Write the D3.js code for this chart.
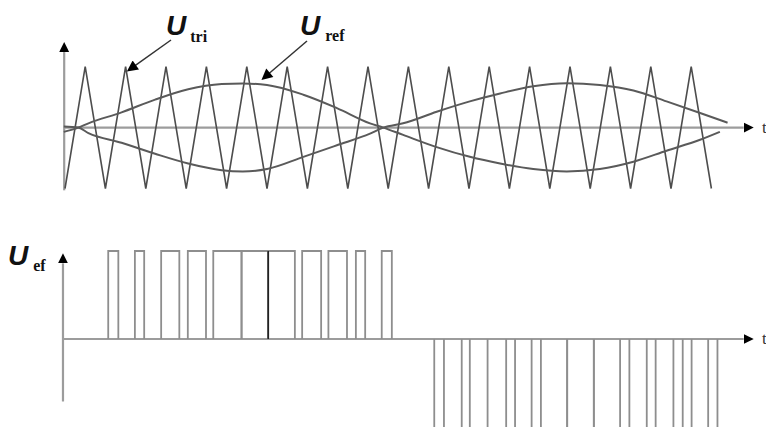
<!DOCTYPE html>
<html><head><meta charset="utf-8">
<script src="https://cdn.jsdelivr.net/npm/d3@7"></script>
<style>body{margin:0;background:#fff}svg{display:block}</style>
</head><body>
<svg id="c" width="766" height="427"></svg>
<script>
// ---- data (time in carrier periods, amplitude normalised) ----
const triTimes  = [0,0.5,1,1.5,2,2.5,3,3.5,4,4.5,5,5.5,6,6.5,7,7.5,8,8.5,9,9.5,10,10.5,11,11.5,12,12.5,13,13.5,14,14.5,15,15.5,16];
const triValues = [-1,1,-1,1,-1,1,-1,1,-1,1,-1,1,-1,1,-1,1,-1,1,-1,1,-1,1,-1,1,-1,1,-1,1,-1,1,-1,1,-1];

const refTimesA  = [-0.03,0.33,0.58,1.40,2.23,3.05,3.88,4.40,5.00,5.90,6.73,7.55,7.88,8.37,9.20,10.02,10.77,11.59,12.42,13.24,14.07,14.89,15.72,16.21];
const refValuesA = [-0.07,0.00,0.07,0.25,0.46,0.63,0.715,0.725,0.70,0.54,0.32,0.07,0.00,-0.12,-0.32,-0.48,-0.59,-0.68,-0.72,-0.68,-0.56,-0.38,-0.20,-0.07];
const refTimesB  = [-0.03,0.33,0.58,1.40,2.23,3.05,3.88,4.40,5.00,5.90,6.73,7.55,7.88,8.37,9.20,10.02,10.77,11.59,12.42,13.24,14.07,14.89,15.72,16.40];
const refValuesB = [0.02,0.00,-0.09,-0.25,-0.43,-0.59,-0.70,-0.72,-0.68,-0.48,-0.29,-0.10,0.00,0.07,0.26,0.43,0.56,0.68,0.73,0.70,0.61,0.43,0.24,0.08];

// output pulses: [start, end] in carrier periods
const posPulses = [[1.07,1.32],[1.73,1.96],[2.38,2.83],[3.04,3.49],[3.67,4.37],[4.37,5.03],[5.03,5.69],[5.87,6.34],[6.52,6.98],[7.20,7.43],[7.84,8.09]];
const negPulses = [[9.14,9.38],[9.82,10.02],[10.46,10.92],[11.14,11.55],[11.78,12.43],[12.43,13.09],[13.09,13.74],[13.97,14.40],[14.62,15.06],[15.29,15.51],[15.92,16.15]];
const darkEdges = [5.03];

const labels = [{main:"U", sub:"tri"},{main:"U", sub:"ref"},{main:"U", sub:"ef"}];
const axisLabel = "t";

// ---- scales ----
const x = d3.scaleLinear().domain([0,16]).range([65,711.4]);
const yTop = d3.scaleLinear().domain([-1,1]).range([188.5,66.7]);
const yBot = d3.scaleLinear().domain([-1,1]).range([427,251]);

const svg = d3.select("#c");
const defs = svg.append("defs");
defs.append("marker").attr("id","ah").attr("viewBox","0 0 10 10")
  .attr("refX",0).attr("refY",5).attr("markerWidth",10).attr("markerHeight",11)
  .attr("markerUnits","userSpaceOnUse").attr("orient","auto")
  .append("path").attr("d","M0,0L10,5L0,10z").attr("fill","#000");
defs.append("marker").attr("id","ah2").attr("viewBox","0 0 10 10")
  .attr("refX",2).attr("refY",5).attr("markerWidth",13).attr("markerHeight",11)
  .attr("markerUnits","userSpaceOnUse").attr("orient","auto")
  .append("path").attr("d","M0,0L10,5L0,10z").attr("fill","#000");

const axisColor = "#9c9c9c";
function axisLine(g, pts, ys){
  g.append("path").datum(pts)
   .attr("d", d3.line().x(d=>x(d[0])).y(d=>ys(d[1])))
   .attr("fill","none").attr("stroke",axisColor).attr("stroke-width",2.2)
   .attr("marker-end","url(#ah)");
}

// ---- top panel ----
const topG = svg.append("g");
axisLine(topG, [[-0.02,-1.03],[-0.02,1.24]], yTop);
axisLine(topG, [[-0.02,0],[16.8,0]], yTop);

const triData = triTimes.map((t,i)=>[t,triValues[i]]);
topG.append("path").datum(triData)
  .attr("d", d3.line().x(d=>x(d[0])).y(d=>yTop(d[1])))
  .attr("fill","none").attr("stroke","#4d4d4d").attr("stroke-width",1.6)
  .attr("stroke-linejoin","miter");

const refLine = d3.line().x(d=>x(d[0])).y(d=>yTop(d[1])).curve(d3.curveMonotoneX);
topG.append("path").datum(refTimesA.map((t,i)=>[t,refValuesA[i]]))
  .attr("d", refLine).attr("fill","none").attr("stroke","#5a5a5a").attr("stroke-width",2);
topG.append("path").datum(refTimesB.map((t,i)=>[t,refValuesB[i]]))
  .attr("d", refLine).attr("fill","none").attr("stroke","#5a5a5a").attr("stroke-width",2);

// ---- bottom panel ----
const botG = svg.append("g");
axisLine(botG, [[-0.05,-0.71],[-0.05,0.86]], yBot);
axisLine(botG, [[-0.05,0],[16.8,0]], yBot);

function pulsePath(p, level){
  return d3.line().x(d=>x(d[0])).y(d=>yBot(d[1]))([[p[0],0],[p[0],level],[p[1],level],[p[1],0]]);
}
botG.selectAll(".pp").data(posPulses).join("path").attr("class","pp")
  .attr("d", d=>pulsePath(d,1)).attr("fill","none").attr("stroke","#8e8e8e").attr("stroke-width",1.8);
botG.selectAll(".np").data(negPulses).join("path").attr("class","np")
  .attr("d", d=>pulsePath(d,-1.03)).attr("fill","none").attr("stroke","#8e8e8e").attr("stroke-width",1.8);
botG.selectAll(".de").data(darkEdges).join("line").attr("class","de")
  .attr("x1",d=>x(d)).attr("x2",d=>x(d)).attr("y1",yBot(0)).attr("y2",yBot(1))
  .attr("stroke","#222").attr("stroke-width",1.6);

// ---- labels ----
function uLabel(l, px, py, subDx, subDy){
  const t = svg.append("text").attr("x",px).attr("y",py).attr("fill","#111");
  t.append("tspan").text(l.main)
    .attr("font-family","Liberation Sans, Arial, sans-serif").attr("font-weight","bold")
    .attr("font-style","italic").attr("font-size",28);
  t.append("tspan").text(l.sub).attr("dx",subDx).attr("dy",subDy)
    .attr("font-family","Liberation Serif, Times New Roman, serif").attr("font-weight","bold")
    .attr("font-size",16);
}
uLabel(labels[0], 166, 35, 4, 7);
uLabel(labels[1], 300, 35, 5, 6);
uLabel(labels[2], 8, 265, 5, 6);

// label pointers with arrow heads at their tips (tips in data units)
svg.append("path").attr("d", d3.line()([[171,40],[x(1.51)+8,yTop(0.90)-6.5]]))
  .attr("stroke","#333").attr("stroke-width",1.5).attr("marker-end","url(#ah2)");
svg.append("path").attr("d", d3.line()([[307,41],[x(4.83)+8,yTop(0.77)-6.5]]))
  .attr("stroke","#333").attr("stroke-width",1.5).attr("marker-end","url(#ah2)");

// time labels
[yTop(0), yBot(0)].forEach(yy=>{
  svg.append("text").attr("x",762).attr("y",yy+5).text(axisLabel)
    .attr("font-family","Liberation Serif, serif").attr("font-size",17).attr("fill","#333");
});
</script>
</body></html>
